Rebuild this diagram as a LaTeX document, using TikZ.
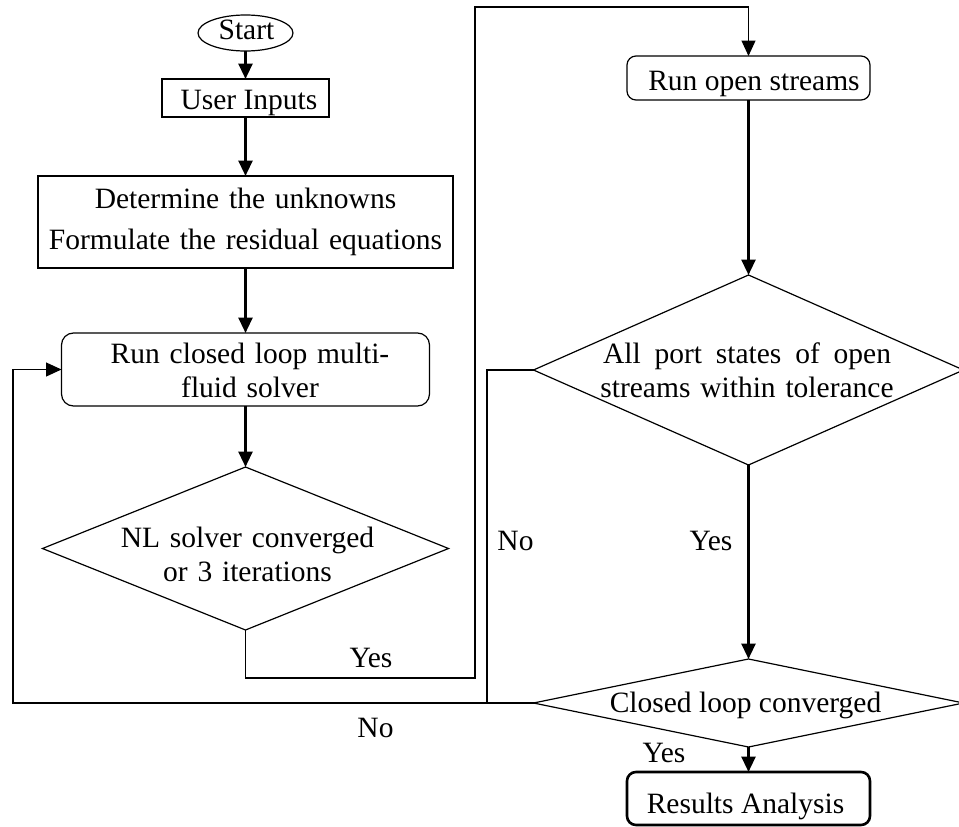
\documentclass[tikz,border=0pt]{standalone}
\usepackage{fontspec}
\setmainfont{Liberation Serif}
\usetikzlibrary{arrows.meta,shapes.geometric}
\begin{document}
\begin{tikzpicture}[x=1pt,y=-1pt,
  every node/.style={inner sep=0pt, outer sep=0pt},
  thinline/.style={line width=1.2pt},
  stepbox/.style={draw, thinline, rectangle},
  roundbox/.style={draw, thinline, rectangle, rounded corners=9pt},
  decision/.style={draw, thinline, diamond},
  lbl/.style={anchor=base, font=\fontsize{29.5pt}{34.5pt}\selectfont},
  mlbl/.style={lbl, text width=420pt, align=center},
  flowarrow/.style={line width=2.6pt, -{Triangle[length=15.5pt,width=14pt]}},
  backarrow/.style={thinline, -{Triangle[length=15.5pt,width=14pt]}},
  mergeline/.style={thinline},
]
\useasboundingbox (0,0) rectangle (959,827);

% left column: set-up and inner solver
\node[draw, thinline, ellipse, minimum width=95pt, minimum height=36pt] (start) at (245.5,33) {};
\node[lbl] (start-t) at (246.5,39) {Start};
\node[stepbox, minimum width=167pt, minimum height=38pt] (user) at (245.5,98) {};
\node[lbl] (user-t) at (249,109) {User Inputs};
\node[stepbox, minimum width=415pt, minimum height=92pt] (det) at (245.5,222) {};
\node[mlbl, font=\fontsize{29.5pt}{41pt}\selectfont] (det-t) at (245.5,208)
  {Determine the unknowns\\Formulate the residual equations};
\node[roundbox, rounded corners=12pt, minimum width=368pt, minimum height=73pt] (runc) at (245.5,369.5) {};
\node[mlbl] (runc-t) at (250,363) {Run closed loop multi-\\fluid solver};
\node[decision, minimum width=406pt, minimum height=163pt] (nl) at (245.5,548.5) {};
\node[mlbl] (nl-t) at (247.5,547) {NL solver converged\\or 3 iterations};

% right column: open streams and convergence checks
\node[roundbox, minimum width=243pt, minimum height=44pt] (runo) at (748.5,78) {};
\node[lbl] (runo-t) at (754,90) {Run open streams};
\node[decision, minimum width=430pt, minimum height=190pt] (ports) at (748.5,370) {};
\node[mlbl, text width=300pt] (ports-t) at (747,363)
  {\hbox to 288pt{All\hfill port\hfill states\hfill of\hfill open}\\streams within tolerance};
\node[decision, minimum width=430pt, minimum height=88pt] (conv) at (748.5,703) {};
\node[lbl] (conv-t) at (745.5,712) {Closed loop converged};
\node[roundbox, line width=2.6pt, minimum width=243pt, minimum height=53pt] (res) at (748.5,798.5) {};
\node[lbl] (res-t) at (745.5,813) {Results Analysis};

% branch labels
\node[lbl] (yes-nl) at (371,667) {Yes};
\node[lbl] (no-ports) at (515.5,550) {No};
\node[lbl] (yes-ports) at (711,550) {Yes};
\node[lbl] (no-conv) at (375.5,737) {No};
\node[lbl] (yes-conv) at (664,762) {Yes};

% bend points of the loop connectors
\coordinate (nl-low) at (475,678);
\coordinate (top-right) at (475,7);
\coordinate (ports-drop) at (487,703);
\coordinate (left-low) at (13,703);

% main flow
\draw[flowarrow] (start) -- (user);
\draw[flowarrow] (user) -- (det);
\draw[flowarrow] (det) -- (runc);
\draw[flowarrow] (runc) -- (nl);
\draw[flowarrow] (runo) -- (ports);
\draw[flowarrow] (ports) -- (conv);
\draw[flowarrow] (conv) -- (res);

% loops
\draw[backarrow] (nl.south) |- (nl-low) -- (top-right) -| (runo.north);
\draw[mergeline] (ports.west) -| (ports-drop);
\draw[backarrow] (conv.west) -- (left-low) |- (runc.west);
\end{tikzpicture}
\end{document}
